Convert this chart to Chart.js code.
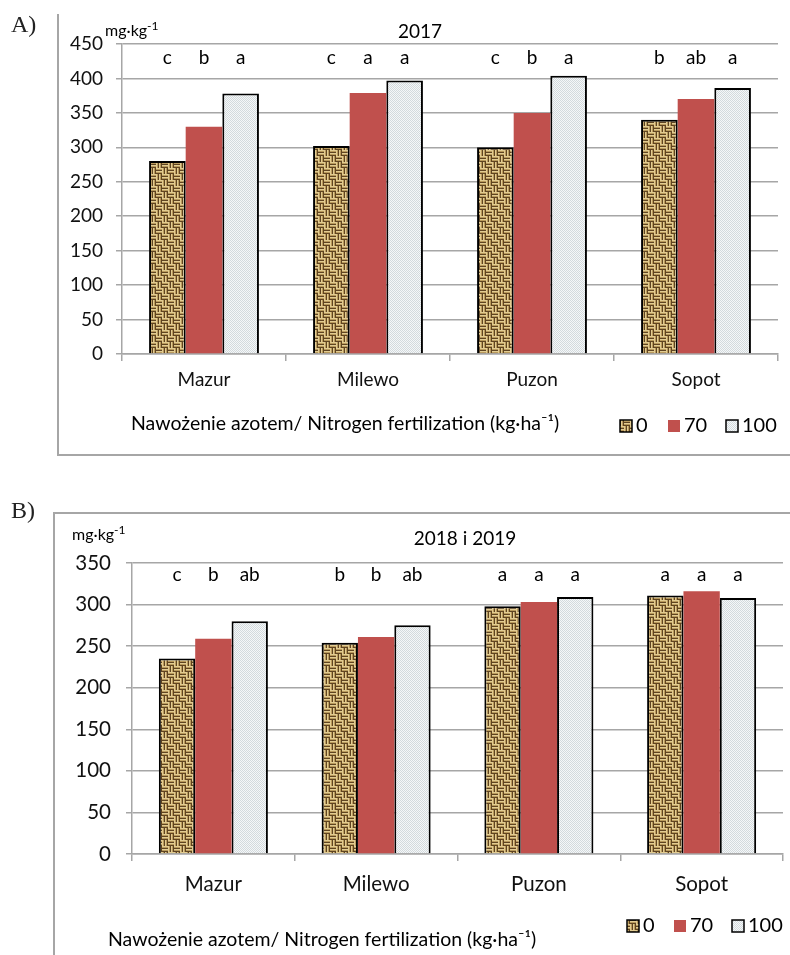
<!DOCTYPE html>
<html lang="pl">
<head>
<meta charset="UTF-8" />
<title>Nawożenie azotem – mg·kg-1</title>
<script src="https://cdn.jsdelivr.net/npm/chart.js"></script>
<style>
  body { margin: 0; background: #fff; width: 790px; height: 955px; overflow: hidden; position: relative; }
  canvas { position: absolute; left: 0; }
  #chartA { top: 0; }
  #chartB { top: 480px; }
</style>
</head>
<body>
<canvas id="chartA" width="790" height="470"></canvas>
<canvas id="chartB" width="790" height="475"></canvas>
<script>
// --- data ---
const cultivars = ['Mazur', 'Milewo', 'Puzon', 'Sopot'];
const doses = ['0', '70', '100'];

// A) 2017
const a0 = [280, 302, 300, 340];
const a70 = [330, 379, 350, 370];
const a100 = [378, 397, 404, 386];
const aLetters0 = ['c', 'c', 'c', 'b'];
const aLetters70 = ['b', 'a', 'b', 'ab'];
const aLetters100 = ['a', 'a', 'a', 'a'];

// B) 2018 i 2019
const b0 = [235, 254, 298, 311];
const b70 = [259, 261, 303, 316];
const b100 = [280, 275, 309, 308];
const bLetters0 = ['c', 'b', 'a', 'a'];
const bLetters70 = ['b', 'b', 'a', 'a'];
const bLetters100 = ['ab', 'ab', 'a', 'a'];

const FONT = 'Lato, "Open Sans", sans-serif';
const GRAY = '#a6a6a6';
const Y_AXIS_W = 70;

// burlap-like basket weave for the 0 dose
function burlapTile() {
  const c = document.createElement('canvas');
  c.width = 12; c.height = 12;
  const g = c.getContext('2d');
  const shade = ['#e2cc92', '#b99a5c', '#5f4421'];
  for (let y = 0; y < 12; y++) {
    for (let x = 0; x < 12; x++) {
      const horiz = ((x < 6) === (y < 6));
      const k = (horiz ? y : x) % 3;
      g.fillStyle = k === 2 ? shade[2] : (k === 0 ? shade[0] : shade[1]);
      g.fillRect(x, y, 1, 1);
    }
  }
  return c;
}
// fine dotted light fill for the 100 dose
function dotTile() {
  const c = document.createElement('canvas');
  c.width = 2; c.height = 2;
  const g = c.getContext('2d');
  g.fillStyle = '#f5f7f8'; g.fillRect(0, 0, 2, 2);
  g.fillStyle = '#d3dadd'; g.fillRect(0, 0, 1, 1); g.fillRect(1, 1, 1, 1);
  return c;
}

const decor = {
  id: 'decor',
  afterDraw(chart) {
    const o = chart.options.plugins.decor;
    const ctx = chart.ctx;
    ctx.save();
    // panel frame
    ctx.strokeStyle = GRAY; ctx.lineWidth = 2;
    ctx.beginPath();
    o.frame.forEach((p, i) => i ? ctx.lineTo(p[0], p[1]) : ctx.moveTo(p[0], p[1]));
    ctx.stroke();
    // panel label
    ctx.fillStyle = '#222';
    ctx.font = '24px "Liberation Serif", serif';
    ctx.textBaseline = 'middle'; ctx.textAlign = 'left';
    ctx.fillText(o.panel, 11, o.panelY);
    // unit
    ctx.font = '16px ' + FONT;
    ctx.fillStyle = '#000';
    ctx.fillText('mg·kg', o.unit[0], o.unit[1]);
    const w = ctx.measureText('mg·kg').width;
    ctx.font = '12px ' + FONT;
    ctx.fillText('-1', o.unit[0] + w, o.unit[1] - 5);
    // title
    ctx.font = '19px ' + FONT;
    ctx.textAlign = 'center';
    ctx.fillText(o.title, o.titlePos[0], o.titlePos[1]);
    // significance letters
    const yPix = chart.scales.y.getPixelForValue(o.letterValue);
    ctx.font = o.letterFont + 'px ' + FONT;
    chart.data.datasets.forEach((ds, i) => {
      chart.getDatasetMeta(i).data.forEach((bar, j) => {
        ctx.fillText(ds.letters[j], bar.x, yPix);
      });
    });
    // x title
    ctx.textAlign = 'left';
    ctx.font = '19.5px ' + FONT;
    ctx.fillText('Nawożenie azotem/ Nitrogen fertilization (kg·ha⁻¹)', o.xTitle[0], o.xTitle[1]);
    // legend
    ctx.font = '20px ' + FONT;
    chart.data.datasets.forEach((ds, i) => {
      const x = o.legendX[i], y = o.legendY;
      ctx.fillStyle = ds.backgroundColor;
      ctx.fillRect(x, y - 6, 12, 12);
      if (ds.borderWidth) {
        ctx.strokeStyle = '#000'; ctx.lineWidth = 1.5;
        ctx.strokeRect(x, y - 6, 12, 12);
      }
      ctx.fillStyle = '#000';
      ctx.fillText(ds.label, x + 16, y);
    });
    ctx.restore();
  }
};

function buildChart(id, cfg) {
  const ctx = document.getElementById(id).getContext('2d');
  const burlap = ctx.createPattern(burlapTile(), 'repeat');
  const dots = ctx.createPattern(dotTile(), 'repeat');
  const H = ctx.canvas.height;
  const tickFont = { family: FONT, size: cfg.tickSize };
  return new Chart(ctx, {
    type: 'bar',
    data: {
      labels: cultivars,
      datasets: [
        { label: doses[0], data: cfg.v[0], letters: cfg.l[0], backgroundColor: burlap, borderColor: '#000', borderWidth: 2 },
        { label: doses[1], data: cfg.v[1], letters: cfg.l[1], backgroundColor: '#c0504d', borderWidth: 0 },
        { label: doses[2], data: cfg.v[2], letters: cfg.l[2], backgroundColor: dots, borderColor: '#000', borderWidth: 2 }
      ]
    },
    options: {
      responsive: false,
      animation: false,
      layout: { padding: { left: cfg.area.left - Y_AXIS_W, top: cfg.area.top, right: 790 - cfg.area.right, bottom: H - cfg.area.bottom - 40 } },
      datasets: { bar: { categoryPercentage: 0.67, barPercentage: 1 } },
      plugins: { legend: { display: false }, tooltip: { enabled: false }, decor: cfg.decor },
      scales: {
        x: {
          grid: { offset: true, drawOnChartArea: false, tickLength: 7, color: GRAY, lineWidth: 1.5 },
          border: { color: GRAY, width: 1.5 },
          ticks: { font: tickFont, color: '#111', padding: cfg.xPad, maxRotation: 0 },
          afterFit(s) { s.height = 40; }
        },
        y: {
          min: 0, max: cfg.max,
          grid: { color: GRAY, lineWidth: 1.5, tickLength: 6 },
          border: { color: GRAY, width: 1.5 },
          ticks: { stepSize: 50, font: tickFont, color: '#111', padding: cfg.yPad },
          afterFit(s) { s.width = Y_AXIS_W; }
        }
      }
    },
    plugins: [decor]
  });
}

buildChart('chartA', {
  v: [a0, a70, a100], l: [aLetters0, aLetters70, aLetters100],
  max: 450, tickSize: 19, xPad: 7, yPad: 13,
  area: { left: 122, top: 44, right: 778, bottom: 354 },
  decor: {
    frame: [[58, 14], [58, 455], [790, 455]],
    panel: 'A)', panelY: 26,
    unit: [105, 31], title: '2017', titlePos: [420, 32],
    letterValue: 430, letterFont: 19,
    xTitle: [131, 424],
    legendX: [620, 668, 726], legendY: 426
  }
});

buildChart('chartB', {
  v: [b0, b70, b100], l: [bLetters0, bLetters70, bLetters100],
  max: 350, tickSize: 20.5, xPad: 11, yPad: 15,
  area: { left: 132, top: 83, right: 783, bottom: 374 },
  decor: {
    frame: [[54, 475], [54, 33], [790, 33]],
    panel: 'B)', panelY: 32,
    unit: [72, 55], title: '2018 i 2019', titlePos: [465, 59],
    letterValue: 336, letterFont: 19,
    xTitle: [108, 460],
    legendX: [627, 674, 732], legendY: 446
  }
});
</script>
</body>
</html>
